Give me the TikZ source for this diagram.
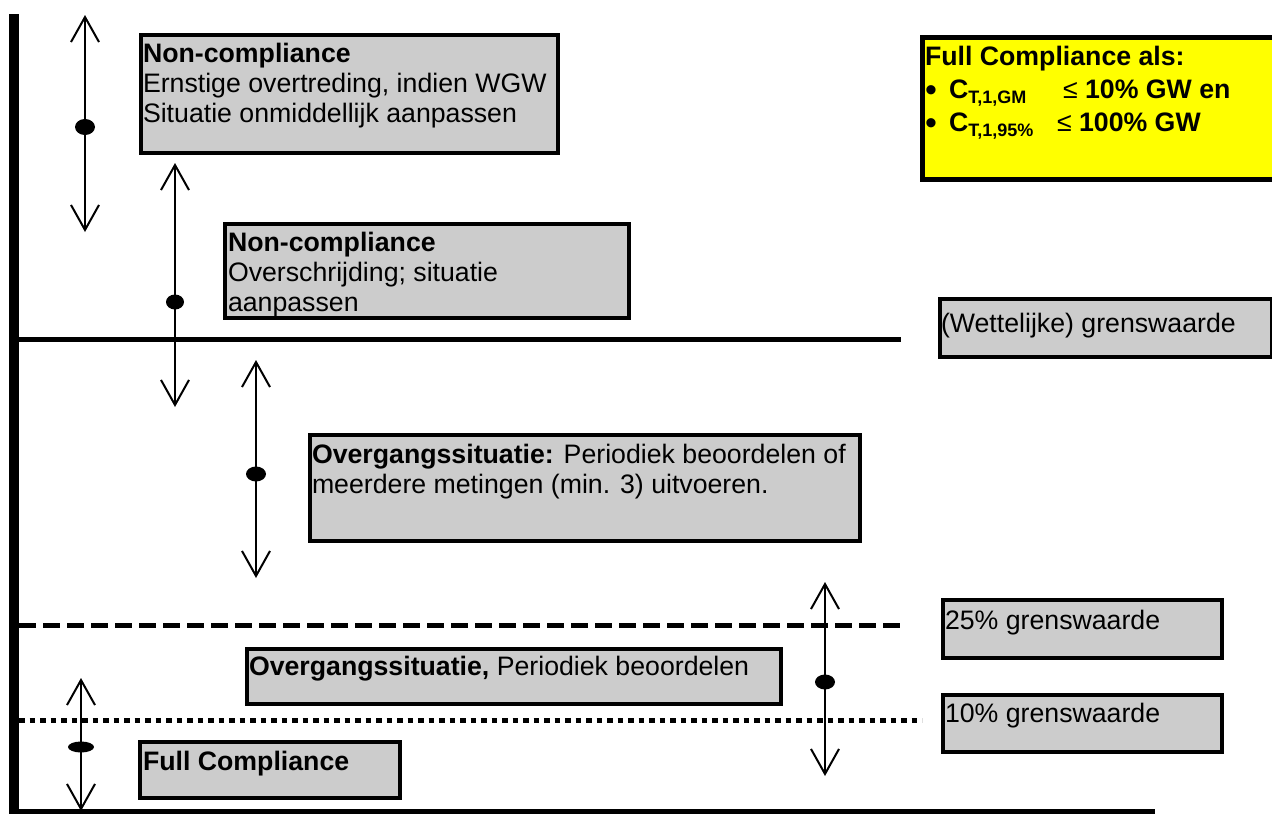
\documentclass[tikz,border=0pt]{standalone}
\usepackage{fontspec}
\setmainfont{Liberation Sans}
\usetikzlibrary{arrows.meta,shapes.geometric}
\definecolor{boxgray}{HTML}{CCCCCC}
\definecolor{noteyellow}{HTML}{FFFF00}
\newcommand{\listdot}{\makebox[24pt][l]{\raisebox{-3.5pt}{\fontsize{34}{34}\selectfont •}}}

\begin{document}
\begin{tikzpicture}[x=1pt,y=-1pt,
  gbox/.style={draw, line width=4pt, fill=boxgray, inner sep=0pt, outer sep=0pt, anchor=north west},
  ybox/.style={draw, line width=5pt, fill=noteyellow, inner sep=0pt, outer sep=0pt, anchor=north west},
  txt/.style={anchor=north west, inner sep=0pt, outer sep=0pt, align=left,
              font=\fontsize{26.7}{30}\selectfont},
  spanarrow/.style={line width=2pt, -{Straight Barb[length=25pt,width=28pt]}},
  marker/.style={ellipse, fill=black, inner sep=0pt, outer sep=0pt,
                 minimum width=19pt, minimum height=15pt},
  level/.style={line width=5pt},
]
\useasboundingbox (0,0) rectangle (1272,814);

% axes
\coordinate (axtop) at (14,14);
\coordinate (axbot) at (14,820);
\coordinate (baseL) at (9,811.5);
\coordinate (baseR) at (1155,811.5);
\draw[line width=10pt] (axtop) -- (axbot);
\draw[level] (baseL) -- (baseR);

% threshold levels
\coordinate (gwL) at (14,339);   \coordinate (gwR) at (901,339);
\coordinate (q25L) at (19,625);  \coordinate (q25R) at (902,625);
\coordinate (q10L) at (19,720);  \coordinate (q10R) at (922,720);
\draw[level] (gwL) -- (gwR);
\draw[level, dash pattern=on 17pt off 7pt] (q25L) -- (q25R);
\draw[level, dash pattern=on 5.5pt off 5pt] (q10L) -- (q10R);

% grey boxes
\node[gbox, minimum width=417pt, minimum height=118pt] (b1) at (141,35) {};
\node[gbox, minimum width=404pt, minimum height=94pt]  (b2) at (225,224) {};
\node[gbox, minimum width=550pt, minimum height=106pt] (b3) at (310,435) {};
\node[gbox, minimum width=534pt, minimum height=55pt]  (b4) at (247,649) {};
\node[gbox, minimum width=260pt, minimum height=56pt]  (b5) at (140,742) {};
\node[gbox, minimum width=332pt, minimum height=58pt]  (b7) at (940,299) {};
\node[gbox, minimum width=279pt, minimum height=58pt]  (b8) at (943,600) {};
\node[gbox, minimum width=279pt, minimum height=57pt]  (b9) at (943,695) {};
\node[ybox, minimum width=370pt, minimum height=142pt] (note) at (922.5,37.5) {};

% box texts
\node[txt] (t1) at (143,41) {\strut\textbf{Non-compliance}\\Ernstige overtreding, indien WGW\\Situatie onmiddellijk aanpassen};
\node[txt] (t2) at (228,230) {\strut\textbf{Non-compliance}\\Overschrijding; situatie\\aanpassen};
\node[txt] (t3) at (312,442) {\strut\textbf{Overgangssituatie:} Periodiek beoordelen of\\meerdere metingen (min. 3) uitvoeren.};
\node[txt] (t4) at (249,654) {\strut\textbf{Overgangssituatie,} Periodiek beoordelen};
\node[txt] (t5) at (143,749) {\strut\textbf{Full Compliance}};
\node[txt] (t7) at (941,311) {\strut(Wettelijke) grenswaarde};
\node[txt] (t8) at (945,608) {\strut 25\% grenswaarde};
\node[txt] (t9) at (945,701) {\strut 10\% grenswaarde};
\node[txt, font=\fontsize{26.7}{33}\selectfont] (tn) at (925,41.9) {%
  \strut\textbf{Full Compliance als:}\\
  \listdot\makebox[114pt][l]{\textbf{C\raisebox{-5pt}{\fontsize{18}{18}\selectfont T,1,GM}}}≤ \textbf{10\% GW en}\\
  \listdot\makebox[108pt][l]{\textbf{C\raisebox{-5pt}{\fontsize{18}{18}\selectfont T,1,95\%}}}≤ \textbf{100\% GW}};

% range markers with double arrows
\node[marker, minimum width=20pt, minimum height=16pt] (m1) at (85,127) {};
\coordinate (m1t) at (85,15);  \coordinate (m1b) at (85,232);
\node[marker, minimum width=18pt] (m2) at (175,302) {};
\coordinate (m2t) at (175,163); \coordinate (m2b) at (175,407);
\node[marker, minimum width=20pt] (m3) at (256,474) {};
\coordinate (m3t) at (256,360); \coordinate (m3b) at (256,578);
\node[marker, minimum width=20pt] (m4) at (825,682) {};
\coordinate (m4t) at (825,582); \coordinate (m4b) at (825,776);
\node[marker, minimum width=26pt, minimum height=11pt] (m5) at (81,747) {};
\coordinate (m5t) at (81,678); \coordinate (m5b) at (81,811);

\foreach \m in {m1,m2,m3,m4,m5}{
  \draw[spanarrow] (\m.center) -- (\m t);
  \draw[spanarrow] (\m.center) -- (\m b);
}
\end{tikzpicture}
\end{document}
